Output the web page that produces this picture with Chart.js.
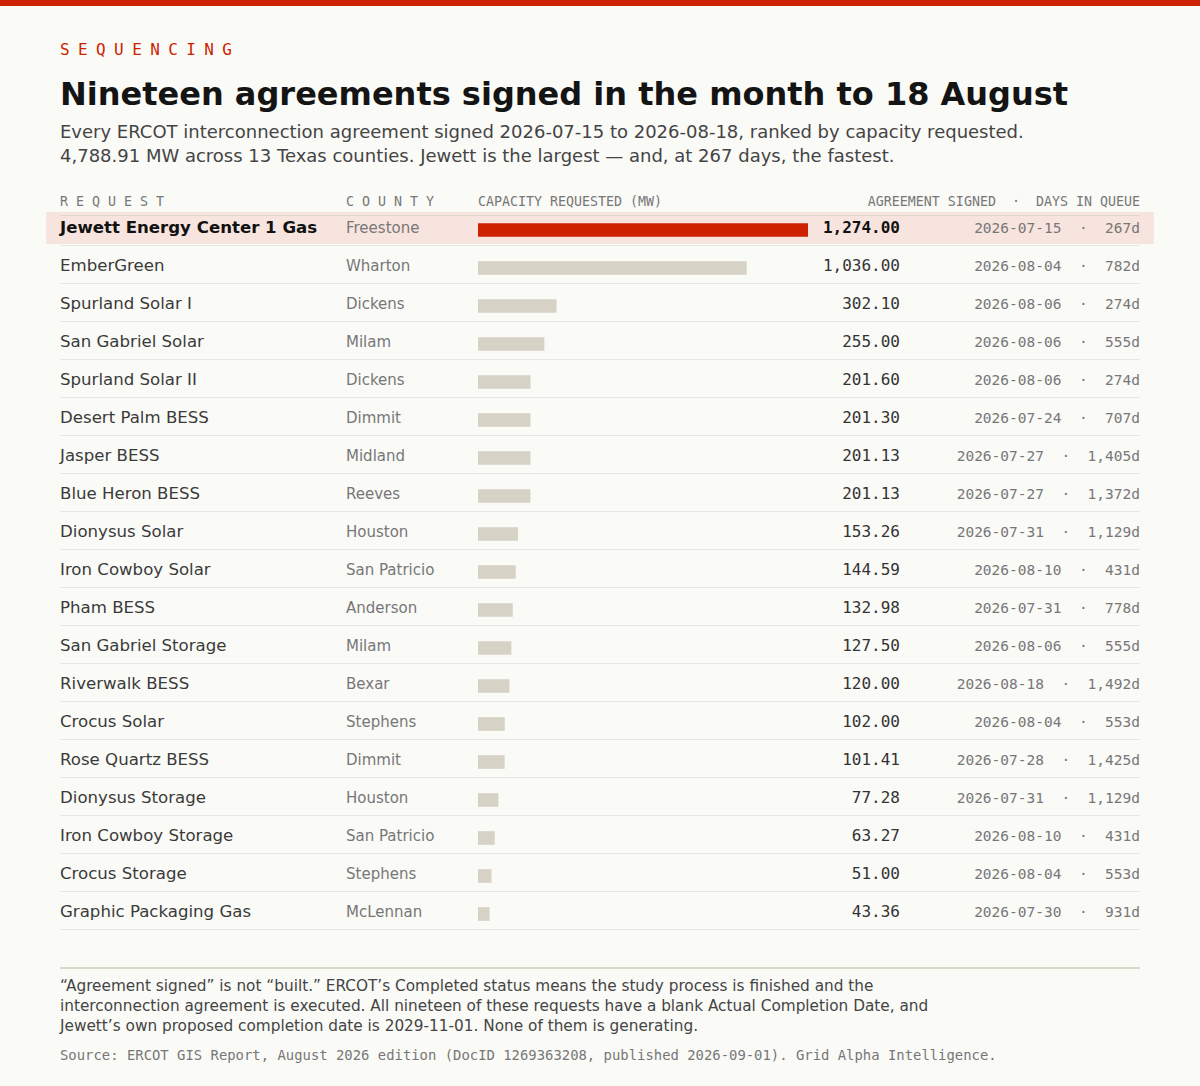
<!DOCTYPE html>
<html>
<head>
<meta charset="utf-8">
<script src="https://cdn.jsdelivr.net/npm/chart.js@4"></script>
<style>
  html, body { margin: 0; padding: 0; background: #fafaf7; }
  body { width: 1200px; height: 1086px; position: relative; overflow: hidden; font-family: "DejaVu Sans", sans-serif; }
  .abs { position: absolute; }
  .mono { font-family: "DejaVu Sans Mono", monospace; }
  #topbar { left: 0; top: 0; width: 1200px; height: 6px; background: #cc2200; }
  #kicker { left: 60px; top: 40px; font-size: 16px; letter-spacing: 8.4px; color: #cc2200; line-height: 20px; }
  #title { left: 60px; top: 74px; font-size: 32px; font-weight: bold; color: #141414; line-height: 40px; white-space: nowrap; }
  #subtitle { left: 60px; top: 120px; font-size: 18px; color: #444; line-height: 24px; width: 1120px; }
  .hdr { top: 194px; font-size: 13.3px; color: #777; line-height: 16px; white-space: pre; }
  #hdrline { left: 60px; top: 215px; width: 1080px; height: 1px; background: #dcd6cc; }
  #hilite { left: 46px; top: 212px; width: 1108px; height: 32px; background: #f8e4de; }
  .row { left: 60px; width: 1080px; height: 38px; line-height: 38px; }
  .row .sep { position: absolute; left: 0; bottom: 0; width: 1080px; height: 1px; background: #e8e6e0; }
  .row span { position: absolute; top: 1px; white-space: pre; }
  .nm { left: 0; font-size: 16.6px; color: #3a3a3a; }
  .ct { left: 286px; font-size: 15px; color: #777; }
  .vl { right: 240px; font-size: 16px; color: #333; font-family: "DejaVu Sans Mono", monospace; }
  .dt { right: 0; font-size: 14.5px; color: #777; font-family: "DejaVu Sans Mono", monospace; }
  .top .nm, .top .vl { font-weight: bold; color: #111; }
  #barbox { left: 478px; top: 210.5px; width: 330px; height: 722px; }
  #footline { left: 60px; top: 967px; width: 1080px; height: 2px; background: #dcd7cb; }
  #note { left: 60px; top: 976px; width: 900px; font-size: 15.3px; line-height: 20px; color: #444; }
  #source { left: 60px; top: 1046px; font-size: 13.9px; line-height: 18px; color: #777; white-space: nowrap; }
</style>
</head>
<body>
<div id="topbar" class="abs"></div>
<div id="kicker" class="abs mono">SEQUENCING</div>
<div id="title" class="abs">Nineteen agreements signed in the month to 18 August</div>
<div id="subtitle" class="abs">Every ERCOT interconnection agreement signed 2026-07-15 to 2026-08-18, ranked by capacity requested.<br>4,788.91 MW across 13 Texas counties. Jewett is the largest — and, at 267 days, the fastest.</div>

<div id="hilite" class="abs"></div>
<div class="abs hdr mono" style="left:60px;letter-spacing:8px">REQUEST</div>
<div class="abs hdr mono" style="left:346px;letter-spacing:8px">COUNTY</div>
<div class="abs hdr mono" style="left:478px">CAPACITY REQUESTED (MW)</div>
<div class="abs hdr mono" style="right:60px">AGREEMENT SIGNED  ·  DAYS IN QUEUE</div>
<div id="hdrline" class="abs"></div>

<div id="rows"></div>

<div id="barbox" class="abs"><canvas id="bars" width="330" height="722"></canvas></div>

<div id="footline" class="abs"></div>
<div id="note" class="abs">“Agreement signed” is not “built.” ERCOT’s Completed status means the study process is finished and the interconnection agreement is executed. All nineteen of these requests have a blank Actual Completion Date, and Jewett’s own proposed completion date is 2029-11-01. None of them is generating.</div>
<div id="source" class="abs mono">Source: ERCOT GIS Report, August 2026 edition (DocID 1269363208, published 2026-09-01). Grid Alpha Intelligence.</div>

<script>
// Daten
const names = ["Jewett Energy Center 1 Gas", "EmberGreen", "Spurland Solar I", "San Gabriel Solar", "Spurland Solar II",
  "Desert Palm BESS", "Jasper BESS", "Blue Heron BESS", "Dionysus Solar", "Iron Cowboy Solar", "Pham BESS",
  "San Gabriel Storage", "Riverwalk BESS", "Crocus Solar", "Rose Quartz BESS", "Dionysus Storage",
  "Iron Cowboy Storage", "Crocus Storage", "Graphic Packaging Gas"];
const counties = ["Freestone", "Wharton", "Dickens", "Milam", "Dickens", "Dimmit", "Midland", "Reeves", "Houston",
  "San Patricio", "Anderson", "Milam", "Bexar", "Stephens", "Dimmit", "Houston", "San Patricio", "Stephens", "McLennan"];
const capacity = [1274.00, 1036.00, 302.10, 255.00, 201.60, 201.30, 201.13, 201.13, 153.26, 144.59, 132.98,
  127.50, 120.00, 102.00, 101.41, 77.28, 63.27, 51.00, 43.36];
const signed = ["2026-07-15", "2026-08-04", "2026-08-06", "2026-08-06", "2026-08-06", "2026-07-24", "2026-07-27",
  "2026-07-27", "2026-07-31", "2026-08-10", "2026-07-31", "2026-08-06", "2026-08-18", "2026-08-04", "2026-07-28",
  "2026-07-31", "2026-08-10", "2026-08-04", "2026-07-30"];
const days = [267, 782, 274, 555, 274, 707, 1405, 1372, 1129, 431, 778, 555, 1492, 553, 1425, 1129, 431, 553, 931];

const RED = '#cc2200';
const GREY = '#d6d2c6';

// Zeilen mit Text aufbauen
const rowsEl = document.getElementById('rows');
names.forEach((name, i) => {
  const row = document.createElement('div');
  row.className = 'abs row' + (i === 0 ? ' top' : '');
  row.style.top = (208 + 38 * i) + 'px';
  const mw = capacity[i].toLocaleString('en-US', { minimumFractionDigits: 2, maximumFractionDigits: 2 });
  row.innerHTML = `
    <span class="nm">${name}</span>
    <span class="ct">${counties[i]}</span>
    <span class="vl">${mw}</span>
    <span class="dt">${signed[i]}  ·  ${days[i].toLocaleString('en-US')}d</span>
    <div class="sep"></div>`;
  rowsEl.appendChild(row);
});

// Balken mit Chart.js
new Chart(document.getElementById('bars'), {
  type: 'bar',
  data: {
    labels: names,
    datasets: [{
      data: capacity,
      backgroundColor: capacity.map((v, i) => i === 0 ? RED : GREY),
      barThickness: 13,
      borderWidth: 0
    }]
  },
  options: {
    indexAxis: 'y',
    responsive: false,
    animation: false,
    devicePixelRatio: 1,
    layout: { padding: 0 },
    plugins: { legend: { display: false }, tooltip: { enabled: false } },
    scales: {
      x: { display: false, min: 0, max: 1274 },
      y: { display: false }
    }
  }
});
</script>
</body>
</html>
